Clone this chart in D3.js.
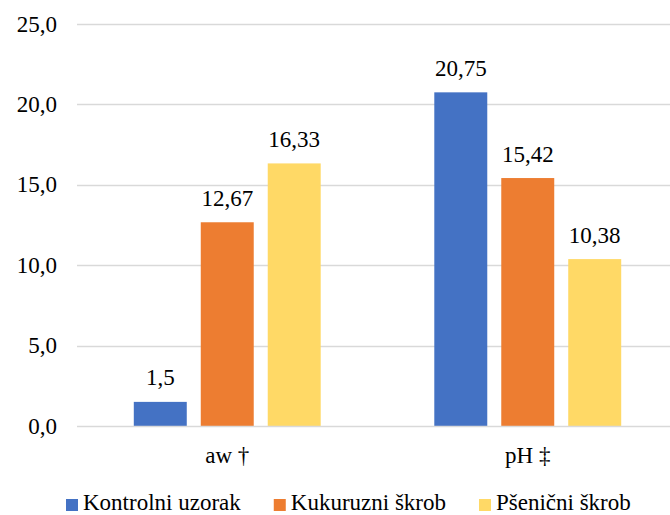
<!DOCTYPE html>
<html>
<head>
<meta charset="utf-8">
<script src="https://cdn.jsdelivr.net/npm/d3@7"></script>
</head>
<body style="margin:0">
<svg id="s" width="670" height="515"></svg>
<script>
const categories = ["aw †", "pH ‡"];
const seriesNames = ["Kontrolni uzorak", "Kukuruzni škrob", "Pšenični škrob"];
const kontrolni = [1.5, 20.75];
const kukuruzni = [12.67, 15.42];
const psenicni = [16.33, 10.38];
const valueLabels = [["1,5", "20,75"], ["12,67", "15,42"], ["16,33", "10,38"]];
const yTicks = [0, 5, 10, 15, 20, 25];
const yTickLabels = ["0,0", "5,0", "10,0", "15,0", "20,0", "25,0"];
const colors = ["#4472C4", "#ED7D31", "#FFD966"];

const seriesValues = [kontrolni, kukuruzni, psenicni];
const svg = d3.select("#s");
const FS = 23;
const FONT = "Liberation Serif";

const plotLeft = 77, plotRight = 678, plotTop = 24, plotBottom = 426;

const y = d3.scaleLinear().domain([0, 25]).range([plotBottom, plotTop]);
const x0 = d3.scaleBand().domain(categories).range([plotLeft, plotRight])
  .paddingInner(0.378).paddingOuter(0.189);
const x1 = d3.scaleBand().domain(seriesNames).range([0, x0.bandwidth()])
  .paddingInner(0.209).paddingOuter(0);
const color = d3.scaleOrdinal().domain(seriesNames).range(colors);

// gridlines
svg.selectAll("line.grid").data(yTicks.slice(1)).join("line")
  .attr("class", "grid")
  .attr("x1", plotLeft).attr("x2", 670)
  .attr("y1", d => Math.round(y(d)) + 0.5).attr("y2", d => Math.round(y(d)) + 0.5)
  .attr("stroke", "#d9d9d9").attr("stroke-width", 1.3);

// bars
const rows = [];
seriesNames.forEach((s, si) => categories.forEach((c, ci) => {
  rows.push({ s, si, c, ci, v: seriesValues[si][ci], label: valueLabels[si][ci] });
}));

svg.selectAll("rect.bar").data(rows).join("rect")
  .attr("class", "bar")
  .attr("x", d => x0(d.c) + x1(d.s))
  .attr("width", x1.bandwidth())
  .attr("y", d => y(d.v))
  .attr("height", d => y(0) - y(d.v))
  .attr("fill", d => color(d.s));

// x axis line
svg.append("line")
  .attr("x1", plotLeft).attr("x2", 670)
  .attr("y1", y(0) + 0.5).attr("y2", y(0) + 0.5)
  .attr("stroke", "#d9d9d9").attr("stroke-width", 1.5);

// legend layout via canvas measurement
const ctx = document.createElement("canvas").getContext("2d");
ctx.font = FS + "px " + FONT;
const legendItems = [];
let lx = 66;
seriesNames.forEach(s => {
  legendItems.push({ s, x: lx });
  lx += 17 + ctx.measureText(s).width + 33;
});
svg.selectAll("rect.leg").data(legendItems).join("rect")
  .attr("class", "leg")
  .attr("x", d => d.x).attr("y", 499).attr("width", 12).attr("height", 12)
  .attr("fill", d => color(d.s));

// all texts in one join
const texts = [];
yTicks.forEach((t, i) => texts.push({ x: 57, y: y(t) + 7.5, a: "end", t: yTickLabels[i] }));
rows.forEach(d => texts.push({ x: x0(d.c) + x1(d.s) + x1.bandwidth() / 2, y: y(d.v) - 16.5, a: "middle", t: d.label }));
categories.forEach(c => texts.push({ x: x0(c) + x0.bandwidth() / 2, y: 463, a: "middle", t: c }));
legendItems.forEach(d => texts.push({ x: d.x + 17, y: 510, a: "start", t: d.s }));

svg.selectAll("text").data(texts).join("text")
  .attr("x", d => d.x).attr("y", d => d.y)
  .attr("font-size", FS)
  .attr("font-family", d => FONT)
  .attr("text-anchor", d => d.a)
  .text(d => d.t);
</script>
</body>
</html>
